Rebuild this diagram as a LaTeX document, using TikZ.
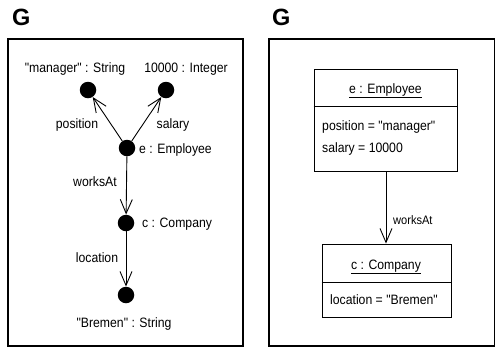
\documentclass[tikz,border=0pt]{standalone}
\usepackage{fontspec}
\setmainfont{Liberation Sans}
\newfontfamily\narrowsans[FakeStretch=0.9]{Liberation Sans}
\usetikzlibrary{arrows.meta}
\tikzset{
  frame/.style={draw, line width=1.2pt, inner sep=0pt},
  objbox/.style={draw, line width=0.9pt, inner sep=0pt},
  dot/.style={circle, fill=black, inner sep=0pt, minimum size=16.5pt},
  lbl/.style={inner sep=0pt, anchor=base, font=\narrowsans\fontsize{13.6}{15}\selectfont},
  lbll/.style={lbl, anchor=base west},
  small/.style={inner sep=0pt, anchor=base west, font=\narrowsans\fontsize{12.3}{14}\selectfont},
  title/.style={inner sep=0pt, anchor=base west, font=\fontsize{23.5}{26}\bfseries},
  link/.style={line width=0.9pt, -{Straight Barb[length=14pt, width=12pt, line width=0.9pt]}}
}
\begin{document}
\begin{tikzpicture}[x=1pt, y=-1pt]
\useasboundingbox (0,0) rectangle (495,349);

% ---- left panel: graph of the object structure ----
\node[title] (gl) at (12,25) {G};
\node[frame, minimum width=235pt, minimum height=307pt] (fl) at (125.5,192.5) {};

\node[dot] (mgr) at (88,90) {};
\node[dot] (int) at (166,90) {};
\node[dot] (emp) at (127,148) {};
\node[dot] (com) at (126,223) {};
\node[dot] (bre) at (126,295) {};

\node[lbl] (tmgr) at (75,72) {"manager" : String};
\node[lbl] (tint) at (186,72) {10000 : Integer};
\node[lbll] (temp) at (139,153.5) {e : Employee};
\node[lbll] (tcom) at (142,227) {c : Company};
\node[lbl] (tbre) at (124,327) {"Bremen" : String};

\draw[link] (emp) -- (mgr);
\draw[link] (emp) -- (int);
\draw[link] (emp) -- (com);
\draw[link] (com) -- (bre);

\node[lbl] (lpos) at (77,128) {position};
\node[lbl] (lsal) at (173,128) {salary};
\node[lbl] (lwrk) at (95,186) {worksAt};
\node[lbl] (lloc) at (97,262) {location};

% ---- right panel: object diagram ----
\node[title] (gr) at (272,25) {G};
\node[frame, minimum width=226pt, minimum height=307pt] (fr) at (382,192.5) {};

\node[objbox, minimum width=143pt, minimum height=102pt] (ebox) at (385.5,120) {};
\draw[line width=0.9pt] (ebox.west |- 0,106) -- (ebox.east |- 0,106);
\node[lbl] (etitle) at (385.5,93) {\underline{e : Employee}};
\node[lbll] (epos) at (322,130) {position = "manager"};
\node[lbll] (esal) at (322,152) {salary = 10000};

\node[objbox, minimum width=129pt, minimum height=73pt] (cbox) at (386.5,280.5) {};
\draw[line width=0.9pt] (cbox.west |- 0,282) -- (cbox.east |- 0,282);
\node[lbl] (ctitle) at (386,269) {\underline{c : Company}};
\node[lbl] (cloc) at (384,304) {location = "Bremen"};

\draw[link] (ebox.south -| 386,0) -- (cbox.north -| 386,0);
\node[small] (lwrk2) at (393,224) {worksAt};
\end{tikzpicture}
\end{document}
